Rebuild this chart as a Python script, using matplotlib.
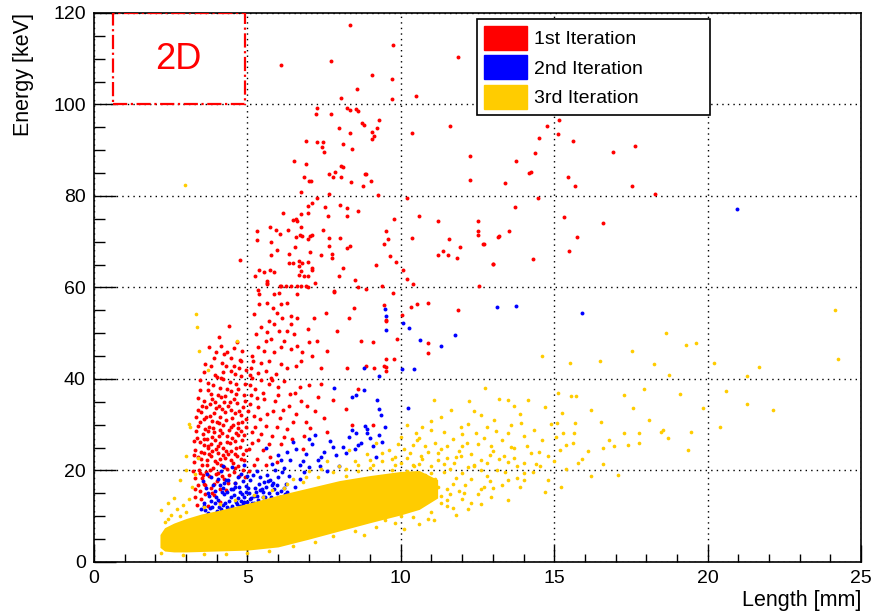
import numpy as np
import matplotlib.pyplot as plt
from matplotlib.patches import Patch, Rectangle
from matplotlib.ticker import MultipleLocator

plt.rcParams['font.family'] = ['Liberation Sans', 'DejaVu Sans']

# hits per iteration: (length [mm], energy [keV])
red_hits = [
    # dense region near the origin
    (3.35,12.5),(3.5,13.8),(3.7,12.2),(3.9,14.6),(4.1,13.1),(3.45,15.5),(3.8,16.2),(4.3,15.8),(3.6,17.0),(4.0,17.6),
    (3.3,18.4),(3.42,20.1),(3.55,19.0),(3.68,21.3),(3.75,18.8),(3.88,20.5),(3.95,22.0),(4.05,19.4),(4.15,21.2),(4.25,18.1),
    (4.35,20.3),(4.45,22.4),(4.55,19.6),(4.7,21.0),(4.85,20.0),(3.25,21.8),(3.5,22.6),(3.62,16.8),(4.6,17.2),(4.9,22.3),
    (3.82,23.1),(4.2,23.4),(3.3,24.5),(3.45,26.2),(3.6,23.8),(3.72,25.4),(3.85,27.3),(3.98,24.6),(4.1,26.1),(4.22,25.0),
    (4.32,27.6),(4.48,24.2),(4.6,26.4),(4.75,25.1),(4.9,27.8),(3.55,27.9),(3.92,28.5),(4.4,28.9),(4.65,23.2),(3.38,22.9),
    (4.05,23.9),(4.8,28.6),(3.68,26.8),(4.28,22.7),(3.4,29.8),(3.58,31.2),(3.75,29.4),(3.9,32.5),(4.02,30.6),(4.18,33.4),
    (4.3,31.0),(4.45,29.6),(4.58,32.6),(4.7,30.4),(4.85,33.8),(3.65,33.9),(4.1,28.9),(4.95,31.3),(3.85,30.9),(4.38,34.2),
    (4.62,28.3),(3.5,32.7),(3.6,35.2),(3.8,36.8),(3.95,35.0),(4.12,38.1),(4.28,36.2),(4.42,39.4),(4.55,35.7),(4.7,37.9),
    (4.88,36.4),(3.72,39.2),(4.0,40.5),(4.6,41.2),(4.3,42.8),(4.92,39.0),(3.9,44.5),(4.15,47.2),
    (3.28,14.2),(3.4,16.9),(3.52,18.3),(3.63,14.9),(3.78,20.0),(3.92,17.1),(4.02,21.6),(4.18,18.9),(4.3,24.2),(4.4,19.1),
    (4.52,21.7),(4.62,24.9),(4.78,22.6),(4.92,18.6),(3.36,27.1),(3.48,24.0),(3.58,25.6),(3.7,28.6),(3.82,25.9),(3.93,26.7),
    (4.08,27.5),(4.2,29.9),(4.35,26.2),(4.5,27.0),(4.68,29.2),(4.82,26.6),(3.45,30.7),(3.62,29.1),(3.78,32.0),(3.98,33.6),
    (4.12,31.8),(4.25,34.9),(4.5,31.5),(4.65,34.8),(4.8,32.1),(3.52,34.1),(3.7,37.5),(3.88,38.6),(4.05,36.4),(4.2,39.9),
    (4.48,37.3),(4.62,38.8),(4.78,40.6),(3.58,41.5),(3.82,42.9),(4.48,44.6),(4.82,46.1),(3.98,46.0),(3.3,16.0),(3.44,19.4),
    (3.67,22.3),(3.85,24.3),(4.12,22.5),(4.38,23.6),(4.58,20.6),(4.72,18.9),(4.95,24.4),(4.95,29.6),(3.25,26.5),(3.32,31.6),
    (3.22,19.8),(3.4,35.9),
    (3.27,23.3),(3.33,28.7),(3.39,33.2),(3.47,37.6),(3.53,21.1),(3.57,26.9),(3.64,31.8),(3.66,19.7),(3.74,23.6),(3.79,34.6),
    (3.84,15.1),(3.87,29.3),(3.94,40.8),(3.97,19.2),(4.03,25.3),(4.07,34.1),(4.11,15.9),(4.16,28.2),(4.19,41.6),(4.23,20.8),
    (4.27,32.7),(4.33,37.9),(4.36,17.3),(4.42,26.0),(4.46,33.3),(4.53,29.9),(4.56,42.9),(4.59,23.7),(4.64,36.7),(4.69,27.8),
    (4.73,33.1),(4.77,44.2),(4.83,30.7),(4.87,23.5),(4.93,35.1),(4.97,42.0),(5.02,33.0),(5.08,40.9),(5.12,36.5),(5.18,44.0),
    (3.46,39.8),(3.62,43.3),(3.76,46.9),(4.24,45.5),(4.57,46.7),(3.86,35.6),(4.15,36.0),(4.44,35.0),(3.71,24.9),(4.09,30.3),
    # moderate region 5-9 mm
    (5.1,34.5),(5.25,37.8),(5.4,31.2),(5.55,35.6),(5.7,38.9),(5.85,33.0),(6.0,36.4),(6.2,39.5),(6.35,34.1),(6.55,37.0),
    (6.75,35.2),(7.0,38.6),(7.3,36.0),(5.15,28.4),(5.35,26.7),(5.6,29.8),(5.8,27.5),(6.05,31.5),(6.3,29.0),(6.6,32.3),
    (6.9,30.5),(7.2,33.1),(5.05,24.8),(5.3,22.6),(5.5,24.4),(5.75,23.0),(6.1,25.9),(6.45,26.8),(7.5,31.4),(7.8,35.3),
    (8.2,33.5),(8.6,37.8),(9.1,30.0),(5.95,21.8),(5.2,31.9),(5.45,39.8),(6.85,27.6),(7.6,28.5),(8.4,29.9),
    (5.05,19.8),(5.2,21.3),(5.35,33.8),(5.5,37.0),(5.65,32.4),(5.9,35.1),(6.15,33.2),(6.4,36.8),(6.7,38.2),(5.1,38.6),
    (5.25,29.6),(5.45,27.9),(5.7,25.8),(5.95,29.4),(6.2,27.3),(6.5,30.7),(6.95,34.1),(7.4,38.8),(5.3,35.9),(5.8,39.7),
    (6.0,38.3),(5.6,21.1),(5.15,26.1),(6.8,24.6),(7.05,29.2),
    # 40-60 keV
    (5.63,60.7),(6.09,60.4),(6.96,60.0),(5.65,56.7),(5.82,55.6),(6.09,56.4),(6.3,56.7),(5.98,54.5),(5.71,52.7),(6.14,53.4),
    (6.41,53.8),(6.63,53.4),(5.43,51.3),(5.65,50.2),(6.03,50.5),(6.3,50.5),(6.52,49.8),(6.96,50.9),(7.01,48.0),(7.28,48.3),
    (5.33,46.9),(5.54,46.2),(5.87,45.8),(6.09,46.9),(6.41,46.5),(6.63,47.3),(6.79,45.8),(7.12,45.1),(5.16,45.1),(5.43,43.6),
    (5.71,44.0),(6.09,43.2),(6.3,42.5),(6.58,42.9),(6.74,44.0),(5.11,42.5),(5.33,41.4),(5.6,41.8),(5.92,41.1),(5.16,40.3),
    (5.76,40.3),(4.78,44.0),(4.73,42.5),(4.46,41.8),(4.18,43.6),(4.35,45.8),(4.67,48.0),(4.08,49.1),(4.4,51.6),(4.13,40.3),
    (7.93,50.5),(8.26,42.5),(8.86,42.9),(9.13,42.5),(9.46,42.9),(9.78,44.3),(7.83,59.3),(8.48,55.6),(8.7,48.3),(9.08,48.0),
    (9.51,52.7),(8.32,53.4),(7.55,54.5),(9.51,41.8),(8.59,60.0),(5.22,54.2),(5.38,56.4),(5.87,58.5),(6.63,58.5),(6.41,52.0),
    (5.87,52.0),(5.6,48.3),(5.27,49.8),(7.17,53.4),(7.39,42.5),(7.61,46.2),(5.76,48.7),(6.2,48.3),
    (9.45,56.2),(9.52,52.9),(10.33,55.7),(10.54,56.4),(10.9,56.7),(11.85,55.1),(10.9,47.9),(10.9,45.6),(9.87,48.7),
    (9.51,44.3),(9.51,42.7),(10.03,54.0),
    # 60-120 keV
    (7.28,99.3),(7.23,98.0),(7.72,98.0),(8.26,99.3),(8.35,98.9),(8.53,99.1),(8.59,98.5),(9.29,96.7),(8.75,96.0),(8.8,95.6),
    (7.97,94.9),(9.21,94.9),(9.07,94.0),(9.13,93.1),(9.05,92.5),(8.33,93.8),(6.9,92.0),(7.26,91.8),(7.45,91.8),(7.43,90.7),
    (7.5,89.6),(8.13,91.3),(8.42,90.3),(6.52,87.6),(6.92,86.9),(8.04,86.5),(8.13,86.4),(7.66,84.9),(7.86,85.2),(7.8,84.1),
    (8.04,84.2),(6.85,84.2),(7.01,83.2),(7.07,83.3),(8.37,83.0),(8.83,84.9),(8.85,84.7),(9.04,83.2),(8.78,82.2),(6.76,80.8),
    (7.66,80.5),(9.26,80.3),(7.28,79.6),(6.98,77.9),(7.12,78.4),(7.53,77.6),(8.02,78.1),(8.24,77.3),(8.26,75.6),(8.59,76.7),
    (6.17,76.2),(6.74,76.0),(6.96,76.2),(7.64,75.7),(6.5,74.7),(6.63,74.5),(6.58,74.9),(9.78,75.0),(5.73,73.3),(5.3,72.3),
    (5.3,70.3),(5.92,72.5),(6.07,71.6),(6.33,72.5),(6.74,73.3),(6.79,71.2),(6.6,71.1),(6.71,71.4),(6.96,70.5),(7.05,71.2),
    (7.12,71.4),(7.45,72.5),(7.66,70.9),(8.02,70.9),(8.26,68.7),(8.34,69.0),(7.66,69.0),(9.52,72.3),(9.46,69.4),(9.59,70.5),
    (5.76,69.9),(5.95,68.3),(6.55,68.9),(7.39,67.1),(7.75,67.4),(7.77,66.5),(5.78,67.2),(6.36,67.4),(7.04,67.8),(9.65,66.8),
    (9.84,65.5),(9.2,64.9),(4.76,66.0),(6.5,65.4),(6.68,65.7),(6.79,65.4),(6.96,65.5),(6.36,65.4),(7.12,64.3),(7.09,63.9),
    (6.68,64.7),(6.74,63.6),(6.68,62.8),(6.85,62.5),(6.96,62.5),(8.13,64.3),(7.99,62.6),(8.5,61.6),(5.38,63.9),(5.54,63.4),
    (5.74,63.9),(5.87,63.4),(5.24,62.6),(5.65,61.4),(5.65,61.0),(6.07,60.4),(6.25,60.4),(6.41,60.4),(6.61,60.4),(6.76,60.4),
    (6.9,60.4),(7.2,60.9),(6.03,58.8),(5.33,59.4),(5.38,58.5),(9.38,60.4),(8.87,59.7),(7.83,59.0),(9.75,58.7),
    (10.38,93.8),(11.61,95.4),(12.24,88.7),(12.24,83.5),(10.2,79.5),(10.58,75.6),(11.2,74.5),(12.5,74.5),(12.5,72.3),
    (12.5,71.4),(12.7,69.5),(10.38,70.9),(11.58,70.5),(11.93,68.9),(11.37,67.9),(11.2,67.1),(11.53,67.0),(11.83,66.4),
    (13.2,71.2),(13.0,65.2),(10.06,63.8),(10.2,61.9),(10.39,60.7),(12.55,60.3),
    (14.76,95.3),(15.16,96.5),(15.11,93.5),(14.52,92.7),(15.6,92.0),(14.37,89.5),(13.76,87.7),(16.93,89.7),(17.63,90.9),
    (14.19,85.1),(14.23,85.3),(13.4,82.8),(15.46,84.2),(15.68,82.1),(17.52,82.2),(18.3,80.4),(14.48,79.6),(13.72,77.7),
    (15.32,75.3),(16.6,74.0),(13.54,72.4),(13.18,71.1),(12.67,69.5),(15.73,71.1),(15.49,68.0),(14.32,66.3),(13.0,65.1),
    (8.34,117.4),(7.72,109.4),(6.09,108.6),(9.05,106.4),(9.7,105.5),(8.58,103.3),(8.05,101.4),(9.7,101.2),(9.76,113.0),
    (11.87,110.3),(10.48,101.9),
]

blue_hits = [
    # cluster above the main band
    (3.5,11.5),(3.6,13.0),(3.7,10.8),(3.75,14.4),(3.85,12.1),(3.95,15.6),(4.0,11.2),(4.05,13.6),(4.12,16.8),(4.2,12.5),
    (4.25,14.9),(4.3,18.0),(4.35,10.9),(4.4,13.4),(4.45,16.0),(4.5,12.2),(4.55,14.6),(4.6,17.3),(4.65,11.5),(4.7,13.9),
    (4.75,15.4),(4.8,19.2),(4.85,12.7),(4.9,14.2),(4.95,16.6),(5.0,13.2),(5.05,15.1),(5.1,17.9),(5.15,12.8),(5.2,14.5),
    (5.25,16.2),(5.3,19.8),(5.35,13.6),(5.4,15.7),(5.5,14.1),(5.55,17.4),(5.6,12.9),(5.7,15.0),(5.8,16.8),(5.9,13.8),
    (6.0,18.5),(6.1,15.6),(6.25,17.1),(6.4,14.6),(3.65,16.2),(3.8,18.6),(4.15,19.9),(4.5,20.8),(3.9,9.8),(4.6,10.3),
    (5.45,11.6),(4.25,17.2),(4.85,17.8),(5.65,19.1),(3.55,17.6),(4.75,12.3),(5.05,11.1),(4.35,15.3),
    (3.58,12.2),(3.72,15.1),(3.82,13.3),(3.98,14.1),(4.08,12.0),(4.18,15.4),(4.28,13.0),(4.42,11.6),(4.52,15.9),(4.62,13.1),
    (4.72,16.4),(4.82,14.8),(4.92,11.9),(5.02,16.1),(5.12,14.0),(5.22,13.0),(5.28,15.3),(5.38,17.1),(5.48,16.0),(5.58,14.3),
    (5.68,17.6),(5.78,14.1),(5.88,15.9),(5.98,16.9),(6.05,14.3),(6.18,16.2),(6.3,15.2),(6.35,18.8),(4.38,17.9),(4.68,18.5),
    (4.98,18.9),(5.18,19.0),(5.42,18.6),(3.88,16.9),(4.05,18.2),(3.68,19.3),(5.75,18.0),(6.12,19.7),(6.55,16.4),(6.7,18.1),
    (4.2,21.0),(4.88,21.1),
    (3.62,11.4),(3.78,11.8),(3.93,12.9),(4.13,11.5),(4.32,12.1),(4.47,14.1),(4.67,12.7),(4.79,13.4),(4.97,15.4),(5.08,13.8),
    (5.32,14.4),(5.52,15.2),(5.62,16.4),(5.85,17.3),(6.22,14.9),(5.95,15.1),(4.58,16.3),(4.22,16.1),(4.9,13.1),(5.25,11.9),
    # tail towards longer tracks
    (5.8,21.5),(6.0,23.4),(6.2,20.6),(6.4,22.3),(6.6,24.8),(6.7,21.2),(6.9,23.6),(7.1,25.9),(7.3,22.4),(7.5,24.1),
    (7.7,26.5),(7.9,23.3),(8.1,25.2),(8.3,27.4),(8.5,24.6),(8.7,26.1),(8.9,28.3),(9.1,25.4),(9.3,27.8),(9.5,29.4),
    (7.2,27.8),(6.5,26.2),(5.6,24.9),(8.0,20.9),(7.6,19.8),(9.2,22.9),(6.85,19.6),
    (6.3,24.0),(6.8,22.0),(7.0,20.8),(7.4,23.0),(7.8,25.1),(8.2,23.8),(8.6,25.6),(9.0,27.0),(9.4,26.2),(7.0,26.9),
    (8.4,28.8),(6.1,22.2),(5.9,20.2),(7.35,21.0),
    # scattered
    (9.5,55.2),(9.52,53.8),(9.53,50.6),(10.08,52.2),(10.26,51.2),(10.63,48.5),(11.3,47.3),(11.76,49.6),(13.14,55.7),
    (13.75,56.0),(15.9,54.5),(10.04,42.2),(10.44,42.2),(9.3,40.7),(8.8,37.7),(8.53,36.6),(9.22,35.5),(9.3,33.4),
    (9.35,32.1),(10.25,33.7),(8.83,29.7),(8.54,28.3),(8.9,29.0),(8.81,42.3),(7.83,38.1),(8.42,36.0),(20.95,77.1),
]

yellow_hits = [
    # around the main band
    (2.3,8.8),(2.5,10.2),(2.7,11.5),(2.9,12.4),(3.1,13.8),(3.0,10.9),(2.4,12.8),(2.2,11.4),(2.6,14.0),(3.2,16.5),
    (3.0,20.1),(2.8,17.9),(3.3,19.2),(3.4,22.8),(2.99,23.2),(3.1,30.1),(3.13,29.6),(3.42,46.2),(3.35,51.3),(3.32,54.2),
    (3.73,42.0),(4.65,48.2),(2.95,82.3),
    (5.5,14.3),(6.2,16.1),(6.8,17.4),(7.3,18.5),(7.8,19.6),(8.2,20.4),(8.6,21.3),(9.0,20.5),(9.4,22.1),(9.8,21.2),
    (10.2,22.8),(10.6,21.5),(11.0,20.9),(11.4,19.6),(11.8,18.3),(11.2,16.5),(10.9,14.0),(11.6,14.8),(12.1,16.9),(7.0,19.9),
    (6.5,18.2),(8.9,23.6),(9.6,24.5),(10.4,25.6),(10.9,24.1),(11.5,22.7),(12.4,21.3),(12.8,18.8),(13.2,22.5),(13.6,25.2),
    (14.0,21.7),(14.5,24.0),(10.0,27.3),(9.2,26.1),(10.7,29.5),(11.7,26.8),(12.2,30.2),(13.1,28.6),(8.3,24.4),(7.6,22.1),
    (6.5,3.4),(7.2,4.3),(7.8,5.6),(8.5,6.8),(9.2,7.7),(9.8,8.6),(10.4,9.8),(11.0,11.0),(11.5,12.3),(12.0,13.8),
    (8.8,5.9),(10.1,7.2),(10.9,9.3),(12.5,14.9),(13.0,16.2),(2.2,2.0),(2.9,1.6),(3.6,1.7),(4.3,1.8),(5.0,2.0),(5.7,2.4),
    (9.6,18.4),(10.2,19.9),(10.5,17.6),(10.8,19.0),(11.1,18.2),(11.4,21.4),(11.7,17.1),(12.0,19.4),(12.3,18.1),(12.6,20.2),
    (10.3,23.9),(9.8,23.0),(10.0,21.7),(9.1,21.2),(8.5,22.0),(8.0,21.0),(7.4,20.4),(6.9,18.6),(6.3,17.1),(5.8,15.7),
    (5.2,14.6),(4.6,13.6),(4.1,12.7),(3.6,12.1),(2.8,10.0),(2.4,9.5),(11.9,24.2),(12.9,23.4),(13.5,21.8),(11.1,26.0),
    (10.5,28.2),(9.7,20.0),(12.2,11.6),(11.8,10.2),(10.6,8.2),(10.0,10.0),(9.5,9.1),(11.3,14.5),(12.6,12.6),(13.3,16.9),
    (13.8,18.4),(14.3,19.6),(14.8,18.0),(15.4,20.4),(15.9,22.6),(16.6,21.4),(14.9,30.1),(14.0,27.6),(13.3,26.6),(12.7,27.2),
    (9.7,22.6),(10.1,24.6),(10.4,21.2),(10.7,22.5),(10.8,25.3),(11.2,22.2),(11.3,24.7),(11.6,20.4),(11.8,22.9),(12.0,25.4),
    (12.3,23.7),(12.5,25.9),(12.8,21.6),(13.0,24.2),(13.4,19.6),(13.7,22.7),(14.1,25.3),(14.4,21.5),(14.8,23.2),(15.2,24.4),
    (15.6,26.1),(10.3,18.6),(10.9,17.0),(11.5,16.0),(12.2,20.7),(12.9,17.6),(13.9,16.4),(10.6,27.0),(11.4,28.4),(12.0,27.9),
    (12.8,29.5),(13.6,29.9),(14.6,26.6),(15.1,30.3),(11.0,30.9),(12.4,32.9),(13.9,32.4),(14.7,33.8),(9.9,25.9),(10.2,30.0),
    (9.4,23.8),(9.0,22.4),(8.6,19.9),(8.2,18.8),(11.3,12.9),(11.9,15.6),(12.6,16.0),(10.5,12.5),(11.7,11.8),(14.0,18.0),
    # long tracks
    (24.15,55.0),(24.24,44.4),(18.64,50.1),(19.29,47.5),(19.62,47.9),(17.52,46.1),(18.26,43.3),(18.75,40.9),(16.5,44.0),
    (15.51,43.6),(14.6,45.0),(20.2,43.5),(21.66,42.6),(21.3,40.7),(20.6,37.3),(21.27,34.6),(22.12,33.3),(20.41,29.4),
    (19.84,33.6),(19.1,36.7),(19.46,28.5),(19.35,24.5),(18.7,27.1),(18.53,28.9),(18.48,28.5),(17.93,37.8),(18.1,31.1),
    (17.77,28.2),(17.77,26.0),(17.28,36.6),(17.58,33.6),(17.28,28.2),(17.39,25.6),(16.96,25.3),(16.79,26.7),(16.58,24.9),
    (16.2,33.3),(16.52,30.7),(16.09,24.2),(15.76,21.6),(16.2,18.7),(17.07,19.0),(15.65,28.2),(15.68,30.4),(15.3,28.2),
    (15.54,36.2),(15.7,36.2),(15.11,36.9),(15.27,32.6),(15.38,25.6),(15.05,27.4),(15.22,16.5),(15.0,22.0),(14.71,15.4),
    (14.54,20.9),(14.13,35.5),(13.7,34.0),(13.48,35.5),(12.75,38.0),(13.2,35.6),(11.09,35.5),(12.23,35.1),(11.63,33.3),
    (12.6,32.2),(11.3,31.8),(13.04,31.1),(13.91,30.4),(14.35,28.9),(13.48,28.2),(11.96,29.6),(12.45,28.2),(10.98,28.9),
    (10.54,26.7),(11.52,25.3),(12.17,26.0),(12.93,25.3),(13.7,24.9),(14.24,23.8),(13.37,23.1),(12.6,22.3),(11.96,23.1),
    (11.2,23.8),(10.65,23.1),(13.8,20.9),(13.15,20.1),(12.39,20.9),(11.74,21.6),(13.48,18.0),(12.72,16.5),(12.07,15.0),
    (11.52,13.6),(14.02,19.4),(10.98,19.4),(10.43,20.9),(10.0,16.5),(11.09,9.2),(12.93,14.3),(12.28,12.8),(13.48,13.6),
]

# outline of the dense 3rd-iteration band
core_len = [2.15, 2.3, 2.6, 3.0, 3.5, 4.0, 5.0, 6.0, 7.0, 8.0, 9.0, 10.0, 10.6, 11.2]
core_lo = [3.2, 2.4, 2.2, 2.2, 2.3, 2.4, 2.6, 3.3, 5.0, 6.8, 8.6, 10.3, 11.5, 14.0]
core_hi = [6.0, 7.5, 8.5, 9.5, 10.5, 11.2, 12.8, 14.6, 16.2, 17.8, 18.9, 19.8, 20.0, 18.0]

labels = ['1st Iteration', '2nd Iteration', '3rd Iteration']
colors = ['#FF0000', '#0000FF', '#FFCC00']

fig = plt.figure(figsize=(8.72, 6.12), dpi=100)
ax = fig.add_axes([0.1078, 0.0817, 0.8796, 0.8971])

red = np.array(red_hits)
blue = np.array(blue_hits)
yellow = np.array(yellow_hits)

ax.scatter(red[:, 0], red[:, 1], s=8, color=colors[0], linewidths=0, zorder=3)
ax.scatter(blue[:, 0], blue[:, 1], s=8, color=colors[1], linewidths=0, zorder=4)
ax.fill_between(core_len, core_lo, core_hi, color=colors[2], linewidth=0, zorder=5)
ax.scatter(yellow[:, 0], yellow[:, 1], s=7, color=colors[2], linewidths=0, zorder=5)

ax.set_xlim(0, 25)
ax.set_ylim(0, 120)
ax.xaxis.set_major_locator(MultipleLocator(5))
ax.xaxis.set_minor_locator(MultipleLocator(1))
ax.yaxis.set_major_locator(MultipleLocator(20))
ax.yaxis.set_minor_locator(MultipleLocator(5))
ax.tick_params(which='both', direction='in', top=False, right=False, labelsize=14, width=1)
ax.tick_params(axis='x', which='major', length=12, pad=6)
ax.tick_params(axis='x', which='minor', length=6)
ax.tick_params(axis='y', which='major', length=16, pad=6)
ax.tick_params(axis='y', which='minor', length=8)
ax.grid(True, which='major', color='black', linestyle=(0, (1, 3)), linewidth=1, zorder=1)
ax.set_axisbelow(False)
for sp in ax.spines.values():
    sp.set_linewidth(1.2)

ax.set_xlabel('Length [mm]', fontsize=15.5, loc='right', labelpad=2)
ax.set_ylabel('Energy [keV]', fontsize=15.5, loc='top', labelpad=14)

# 2D marker box
ax.add_patch(Rectangle((0.62, 100), 4.3, 20, fill=False, edgecolor='red',
                       linestyle='-.', linewidth=1.6, zorder=6))
ax.text(2.75, 109.8, '2D', color='red', fontsize=26, ha='center', va='center', zorder=6)

handles = [Patch(facecolor=c, edgecolor=c) for c in colors]
leg = ax.legend(handles, labels, loc='upper left', bbox_to_anchor=(0.4994, 0.8124, 0.3036, 0.1766),
                mode='expand', borderaxespad=0, fontsize=14, handlelength=2.2, handleheight=1.5,
                handletextpad=0.4, labelspacing=0.3, borderpad=0.35, fancybox=False, framealpha=1)
leg.get_frame().set_edgecolor('black')
leg.get_frame().set_linewidth(1.2)
leg.set_zorder(10)

fig.savefig('out.png', dpi=100)
